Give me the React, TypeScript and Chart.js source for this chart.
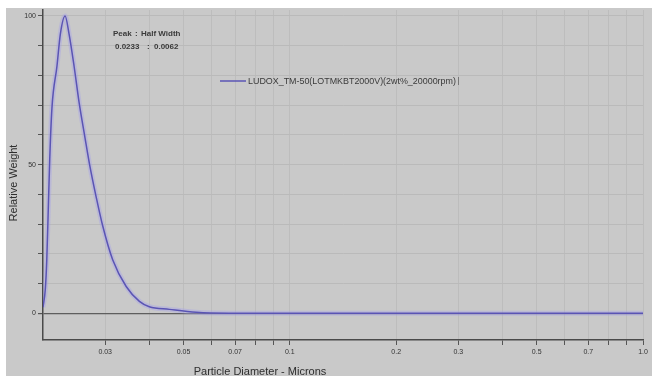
import React, { useEffect, useRef } from "react";
import { Chart, registerables } from "chart.js";

Chart.register(...registerables);

// Particle diameter (microns) and relative weight
const DIAMETERS = [0.02, 0.0203, 0.0205, 0.0207, 0.0209, 0.0212, 0.0219, 0.0224, 0.0231, 0.0237, 0.0245, 0.0253, 0.0263, 0.0271, 0.0283, 0.0295, 0.0315, 0.0344, 0.0375, 0.04, 0.0456, 0.0543, 0.0672, 0.1, 0.2, 0.5, 1.0];
const WEIGHTS = [2, 8, 18, 35, 52, 69, 83, 94, 100, 94, 83, 71, 59, 50, 39, 29.5, 18, 9, 4, 2.2, 1.3, 0.3, 0, 0, 0, 0, 0];

const X_TICKS = [0.03, 0.04, 0.05, 0.06, 0.07, 0.08, 0.09, 0.1, 0.2, 0.3, 0.4, 0.5, 0.6, 0.7, 0.8, 0.9, 1.0];
const X_TICK_LABELS = ["0.03", "", "0.05", "", "0.07", "", "", "0.1", "0.2", "0.3", "", "0.5", "", "0.7", "", "", "1.0"];
const Y_TICKS = [0, 10, 20, 30, 40, 50, 60, 70, 80, 90, 100];
const Y_TICK_LABELS = ["0", "", "", "", "", "50", "", "", "", "", "100"];

const SERIES_NAME = "LUDOX_TM-50(LOTMKBT2000V)(2wt%_20000rpm)";
const PEAK_LABELS = ["Peak", ":", "Half Width"];
const PEAK_VALUES = ["0.0233", ":", "0.0062"];
const X_TITLE = "Particle Diameter - Microns";
const Y_TITLE = "Relative Weight";

const LINE_COLOR = "#5a54b4";
const FONT = "'Liberation Sans', Arial, sans-serif";

export default function App() {
  const ref = useRef<HTMLCanvasElement | null>(null);

  useEffect(() => {
    if (!ref.current) return;
    const pts = DIAMETERS.map((d, i) => ({ x: d, y: WEIGHTS[i] }));

    const bgPlugin = {
      id: "bg",
      beforeDraw(chart: any) {
        const c = chart.ctx;
        c.save();
        c.fillStyle = "#c9c9c9";
        c.fillRect(0, 0, chart.width, chart.height);
        c.restore();
      },
      afterDraw(chart: any) {
        const c = chart.ctx;
        c.save();
        c.fillStyle = "#2e2e2e";
        // axis titles
        c.font = `11px ${FONT}`;
        c.textAlign = "center";
        c.textBaseline = "middle";
        c.fillText(X_TITLE, 254, 364);
        c.save();
        c.translate(8, 175);
        c.rotate(-Math.PI / 2);
        c.fillText(Y_TITLE, 0, 0);
        c.restore();
        // peak annotation
        c.font = `bold 8px ${FONT}`;
        c.textAlign = "left";
        c.fillStyle = "#3a3a3a";
        c.fillText(PEAK_LABELS[0], 107, 26);
        c.fillText(PEAK_LABELS[1], 129, 26);
        c.fillText(PEAK_LABELS[2], 135, 26);
        c.fillText(PEAK_VALUES[0], 109, 39);
        c.fillText(PEAK_VALUES[1], 141, 39);
        c.fillText(PEAK_VALUES[2], 148, 39);
        // legend
        const ly = 73;
        c.strokeStyle = LINE_COLOR;
        c.lineWidth = 1.5;
        c.beginPath();
        c.moveTo(214, ly);
        c.lineTo(240, ly);
        c.stroke();
        c.font = `7px ${FONT}`;
        const w = c.measureText(SERIES_NAME).width;
        const target = 208;
        const fs = (7 * target) / w;
        c.font = `${fs.toFixed(2)}px ${FONT}`;
        c.fillStyle = "#3a3a3a";
        c.fillText(SERIES_NAME, 242, ly + 0.5);
        c.strokeStyle = "#777";
        c.lineWidth = 1;
        c.beginPath();
        c.moveTo(452.5, ly - 4);
        c.lineTo(452.5, ly + 4);
        c.stroke();
        c.restore();
      },
    };

    const chart = new Chart(ref.current, {
      type: "line",
      data: {
        datasets: [
          {
            label: SERIES_NAME,
            data: pts,
            borderColor: LINE_COLOR,
            borderWidth: 1.5,
            pointRadius: 0,
            cubicInterpolationMode: "monotone",
            fill: false,
          },
          {
            label: "halo",
            data: pts,
            borderColor: "rgba(165,160,235,0.4)",
            borderWidth: 5,
            pointRadius: 0,
            cubicInterpolationMode: "monotone",
            fill: false,
          },
        ],
      },
      options: {
        animation: false,
        responsive: true,
        maintainAspectRatio: false,
        layout: { padding: { top: 2, right: 9, left: 0, bottom: 0 } },
        plugins: { legend: { display: false }, tooltip: { enabled: false } },
        scales: {
          x: {
            type: "logarithmic",
            min: 0.02,
            max: 1.0,
            afterBuildTicks: (s: any) => {
              s.ticks = X_TICKS.map((v) => ({ value: v }));
            },
            afterFit: (s: any) => {
              s.height = 36;
              s.paddingLeft = 0;
              s.paddingRight = 0;
            },
            ticks: {
              autoSkip: false,
              maxRotation: 0,
              minRotation: 0,
              padding: 3,
              color: "#333",
              font: { size: 7, family: FONT },
              callback: (_v: any, i: number) => X_TICK_LABELS[i],
            },
            grid: {
              color: "#bdbdbd",
              lineWidth: 1,
              tickLength: 5,
              tickColor: "#555",
            },
            border: { color: "#4a4a4a", width: 1.5 },
          },
          y: {
            type: "linear",
            min: -9,
            max: 102,
            afterBuildTicks: (s: any) => {
              s.ticks = Y_TICKS.map((v) => ({ value: v }));
            },
            afterFit: (s: any) => {
              s.width = 37;
              s.paddingTop = 0;
              s.paddingBottom = 0;
            },
            ticks: {
              autoSkip: false,
              padding: 2,
              color: "#333",
              font: { size: 7, family: FONT },
              callback: (_v: any, i: number) => Y_TICK_LABELS[i],
            },
            grid: {
              color: (ctx: any) => (ctx.tick && ctx.tick.value === 0 ? "#5e5e5e" : "#bababa"),
              lineWidth: (ctx: any) => (ctx.tick && ctx.tick.value === 0 ? 1.2 : 1),
              tickLength: 5,
              tickColor: "#555",
            },
            border: { color: "#4a4a4a", width: 1.5 },
          },
        },
      },
      plugins: [bgPlugin],
    });
    return () => chart.destroy();
  }, []);

  return (
    <div style={{ position: "absolute", left: 6, top: 8, width: 646, height: 368 }}>
      <canvas ref={ref} />
    </div>
  );
}
